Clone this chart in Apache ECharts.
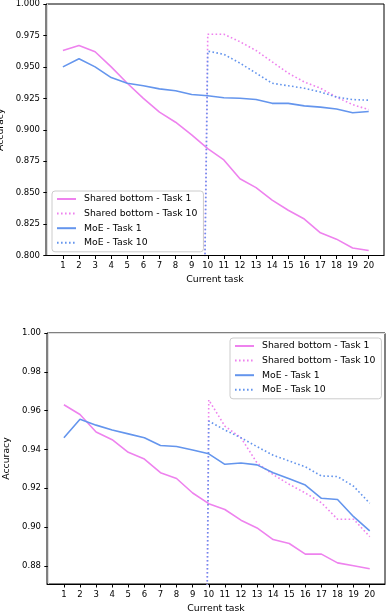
<!DOCTYPE html>
<html>
<head>
<meta charset="utf-8">
<script src="https://cdn.jsdelivr.net/npm/echarts@6/dist/echarts.min.js"></script>
<style>
  html, body { margin: 0; padding: 0; background: #fff; }
  .chart { width: 386px; height: 306px; }
</style>
</head>
<body>
<div class="chart" id="top_chart"></div>
<div class="chart" id="bottom_chart"></div>
<script>
// x categories
const tasks = [1, 2, 3, 4, 5, 6, 7, 8, 9, 10, 11, 12, 13, 14, 15, 16, 17, 18, 19, 20]
const seriesNames = ['Shared bottom - Task 1', 'Shared bottom - Task 10', 'MoE - Task 1', 'MoE - Task 10']

// top panel
const topTicks = [0.8, 0.825, 0.85, 0.875, 0.9, 0.925, 0.95, 0.975, 1.0]
const sbTask1Top = [0.963, 0.967, 0.962, 0.950, 0.937, 0.925, 0.914, 0.906, 0.896, 0.885,
  0.876, 0.861, 0.854, 0.844, 0.836, 0.829, 0.818, 0.813, 0.806, 0.804]
const sbTask10Top = [0, 0, 0, 0, 0, 0, 0, 0, 0, 0.976,
  0.976, 0.970, 0.963, 0.954, 0.945, 0.938, 0.933, 0.926, 0.920, 0.916]
const moeTask1Top = [0.950, 0.9565, 0.950, 0.9415, 0.937, 0.935, 0.9325, 0.931, 0.928, 0.927,
  0.9255, 0.925, 0.924, 0.921, 0.921, 0.919, 0.918, 0.9165, 0.9135, 0.9145]
const moeTask10Top = [0, 0, 0, 0, 0, 0, 0, 0, 0, 0.9625,
  0.960, 0.953, 0.945, 0.937, 0.935, 0.933, 0.930, 0.926, 0.924, 0.9235]

// bottom panel
const bottomTicks = [0.88, 0.9, 0.92, 0.94, 0.96, 0.98, 1.0]
const sbTask1Bot = [0.963, 0.958, 0.949, 0.945, 0.9385, 0.935, 0.928, 0.925, 0.9175, 0.912,
  0.909, 0.9035, 0.8995, 0.8935, 0.8915, 0.886, 0.886, 0.8815, 0.880, 0.8785]
const sbTask10Bot = [0, 0, 0, 0, 0, 0, 0, 0, 0, 0.9655,
  0.952, 0.946, 0.933, 0.927, 0.922, 0.9175, 0.9125, 0.904, 0.904, 0.895]
const moeTask1Bot = [0.946, 0.9555, 0.9525, 0.950, 0.948, 0.946, 0.942, 0.9415, 0.9397, 0.9377,
  0.9323, 0.933, 0.932, 0.928, 0.9248, 0.9216, 0.9148, 0.9142, 0.9053, 0.898]
const moeTask10Bot = [0, 0, 0, 0, 0, 0, 0, 0, 0, 0.9546,
  0.950, 0.946, 0.9414, 0.937, 0.934, 0.931, 0.9263, 0.926, 0.921, 0.9122]

const PINK = '#ee82ee'
const BLUE = '#6495ed'
const FONT = 'DejaVu Sans'
const X_MIN = -0.05
const X_MAX = 20.95

function pairs(values) {
  return tasks.map((t, i) => [t, values[i]])
}

function makeSeries(list) {
  const colors = [PINK, PINK, BLUE, BLUE]
  return list.map((vals, i) => ({
    name: seriesNames[i],
    type: 'line',
    symbol: 'none',
    clip: true,
    animation: false,
    data: pairs(vals),
    lineStyle: {
      color: colors[i],
      width: 1.6,
      type: i % 2 === 1 ? [1.6, 2.4] : 'solid'
    },
    itemStyle: { color: colors[i] }
  }))
}

function makeOption(cfg) {
  const xAxes = [{
    type: 'value',
    min: X_MIN,
    max: X_MAX,
    name: 'Current task',
    nameLocation: 'middle',
    nameGap: 17,
    nameTextStyle: { fontFamily: FONT, fontSize: 9.3, color: '#000' },
    axisLine: { show: true, lineStyle: { color: '#000', width: 1 } },
    axisTick: { show: true, customValues: tasks, length: 3.5, lineStyle: { color: '#000' } },
    axisLabel: { customValues: tasks, fontFamily: FONT, fontSize: 8.5, color: '#000', margin: 6 },
    splitLine: { show: false }
  }]
  if (cfg.greyTop) {
    // faint top spine, like the scan
    xAxes.push({
      type: 'value', position: 'top', min: X_MIN, max: X_MAX,
      axisLine: { show: true, lineStyle: { color: '#ddd', width: 1 } },
      axisTick: { show: false }, axisLabel: { show: false }, splitLine: { show: false }
    })
  }
  return {
    animation: false,
    textStyle: { fontFamily: FONT },
    grid: {
      left: cfg.grid.left, right: cfg.grid.right, top: cfg.grid.top, bottom: cfg.grid.bottom,
      outerBoundsMode: 'none',
      containLabel: false,
      show: true, borderColor: '#000', borderWidth: 1, backgroundColor: '#fff'
    },
    legend: {
      data: seriesNames,
      orient: 'vertical',
      left: cfg.legend.left,
      top: cfg.legend.top,
      padding: [3, 6, 4, 4],
      itemGap: 4.6,
      itemWidth: 19,
      itemHeight: 10,
      itemStyle: { opacity: 0 },
      borderColor: '#ccc',
      borderWidth: 1,
      borderRadius: 3,
      backgroundColor: 'rgba(255,255,255,0.8)',
      textStyle: { fontFamily: FONT, fontSize: 9.3, color: '#000', padding: [0, 0, 0, 3], lineHeight: 10 }
    },
    xAxis: xAxes,
    yAxis: {
      type: 'value',
      min: cfg.yMin,
      max: 1.0,
      name: 'Accuracy',
      nameLocation: 'middle',
      nameGap: cfg.nameGap,
      nameTextStyle: { fontFamily: FONT, fontSize: 9.3, color: '#000' },
      axisLine: { show: true, lineStyle: { color: '#ddd', width: 1 } },
      axisTick: { show: true, customValues: cfg.ticks, length: 3.5, lineStyle: { color: '#000' } },
      axisLabel: {
        customValues: cfg.ticks,
        fontFamily: FONT, fontSize: 8.5, color: '#000', margin: 6,
        formatter: v => v.toFixed(cfg.digits)
      },
      splitLine: { show: false }
    },
    series: makeSeries(cfg.data)
  }
}

const topChart = echarts.init(document.getElementById('top_chart'))
topChart.setOption(makeOption({
  grid: { left: 46, right: 2, top: 4, bottom: 50.5 },
  legend: { left: 52, top: 191 },
  yMin: 0.8,
  ticks: topTicks,
  digits: 3,
  nameGap: 38,
  greyTop: false,
  data: [sbTask1Top, sbTask10Top, moeTask1Top, moeTask10Top]
}))

const bottomChart = echarts.init(document.getElementById('bottom_chart'))
bottomChart.setOption(makeOption({
  grid: { left: 47, right: 1, top: 27, bottom: 28 },
  legend: { left: 230, top: 32 },
  yMin: 0.8706,
  ticks: bottomTicks,
  digits: 2,
  nameGap: 32,
  greyTop: true,
  data: [sbTask1Bot, sbTask10Bot, moeTask1Bot, moeTask10Bot]
}))
</script>
</body>
</html>
